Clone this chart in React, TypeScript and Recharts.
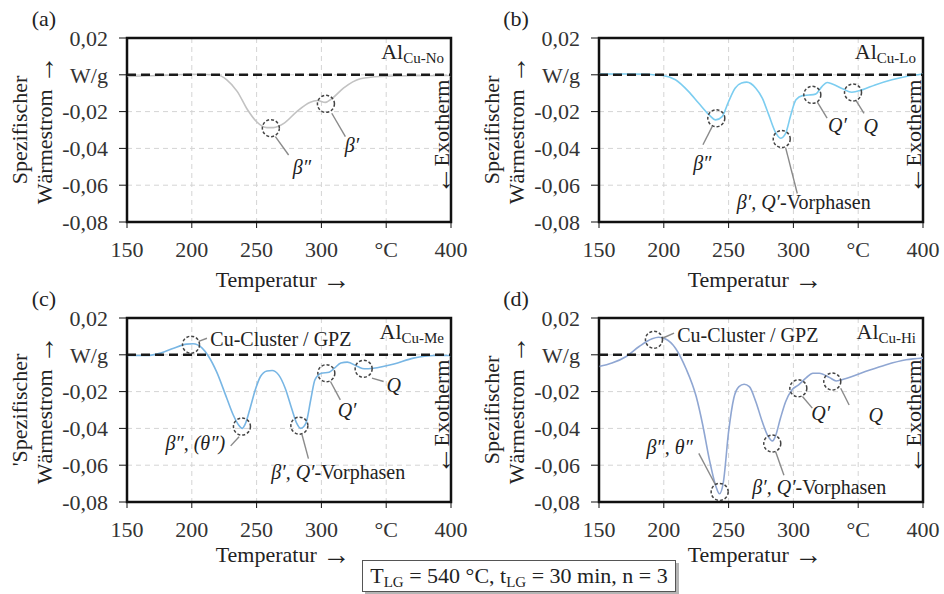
import {
  LineChart,
  Line,
  XAxis,
  YAxis,
  CartesianGrid,
  ReferenceLine,
  ReferenceDot,
  ReferenceArea,
} from "recharts";

// Temperatur in °C, spezifischer Wärmestrom in W/g
const tempA = [150, 175, 199, 219, 227, 235, 243, 250, 258, 263, 271, 281, 291, 297, 303, 308, 317, 330, 345, 369, 400];
const heatA = [-0.0009, -0.0004, 0.0003, 0, -0.0027, -0.009, -0.019, -0.0255, -0.0287, -0.0287, -0.0264, -0.02, -0.015, -0.014, -0.015, -0.013, -0.0073, -0.0022, -0.0009, -0.0005, -0.0004];

const tempB = [150, 176, 199, 209, 219, 227, 235, 240, 245, 250, 255, 260, 264, 271, 276, 281, 286, 290, 294, 298, 302, 307, 312, 317, 322, 326, 330, 338, 345, 353, 363, 376, 387, 400];
const heatB = [0.0004, 0.0004, -0.0004, -0.0027, -0.009, -0.0155, -0.0218, -0.0245, -0.0227, -0.0145, -0.0073, -0.0045, -0.004, -0.0073, -0.0127, -0.0218, -0.031, -0.0345, -0.0318, -0.0218, -0.0136, -0.0113, -0.011, -0.0105, -0.0064, -0.0042, -0.005, -0.0076, -0.0095, -0.0082, -0.0055, -0.0027, -0.0009, 0.0004];

const tempC = [150, 165, 176, 186, 196, 201, 208, 213, 219, 227, 232, 236, 239, 241, 245, 249, 253, 258, 262, 267, 272, 277, 281, 284, 288, 292, 295, 300, 306, 310, 315, 320, 328, 333, 340, 356, 371, 387, 400];
const heatC = [-0.0004, -0.0004, 0.0009, 0.0036, 0.0058, 0.006, 0.0036, -0.0009, -0.009, -0.0236, -0.0327, -0.038, -0.04, -0.038, -0.029, -0.019, -0.0118, -0.0088, -0.0085, -0.0109, -0.018, -0.029, -0.0373, -0.04, -0.0373, -0.0236, -0.0136, -0.01, -0.0095, -0.0073, -0.0045, -0.004, -0.0064, -0.0076, -0.0073, -0.005, -0.0018, -0.0004, -0.0004];

const tempD = [150, 160, 171, 181, 191, 196, 201, 209, 217, 225, 230, 235, 240, 243, 246, 250, 254, 258, 262, 266, 271, 276, 280, 284, 286, 290, 294, 299, 304, 310, 315, 320, 328, 333, 340, 356, 371, 387, 400];
const heatD = [-0.0064, -0.0045, -0.0009, 0.0045, 0.0087, 0.0095, 0.0087, 0.0036, -0.0073, -0.0227, -0.038, -0.0564, -0.071, -0.0755, -0.069, -0.0418, -0.0236, -0.0173, -0.016, -0.0173, -0.0255, -0.0364, -0.0436, -0.0468, -0.0445, -0.0345, -0.0255, -0.019, -0.0164, -0.0124, -0.01, -0.01, -0.0124, -0.0142, -0.013, -0.009, -0.0055, -0.0027, -0.0018];

const xTicks = [150, 200, 250, 300, 350, 400];
const yTicks = [0.02, 0, -0.02, -0.04, -0.06, -0.08];

// Anmerkungen: Kreise [T, q], Hinweislinien [T1, q1, T2, q2], Beschriftungen
type Part = [string, boolean];
type Note = { t: number; v: number; parts: Part[]; anchor?: string };

const circlesA = [[261, -0.029], [303.5, -0.0158]];
const leadersA = [[264.5, -0.0336, 274.7, -0.0436], [308, -0.0209, 318.5, -0.0336]];
const labelsA: Note[] = [
  { t: 285, v: -0.05, parts: [["β″", true]] },
  { t: 323.6, v: -0.038, parts: [["β′", true]] },
];

const circlesB = [[240.5, -0.0236], [291, -0.0349], [314.6, -0.0109], [346, -0.0096]];
const leadersB = [
  [237.4, -0.028, 230.2, -0.038],
  [294, -0.0396, 303, -0.0645],
  [318.5, -0.0149, 326, -0.0236],
  [348, -0.0136, 354.5, -0.0209],
];
const labelsB: Note[] = [
  { t: 229.7, v: -0.048, parts: [["β″", true]] },
  { t: 308, v: -0.069, parts: [["β′, Q′", true], ["-Vorphasen", false]] },
  { t: 334, v: -0.0273, parts: [["Q′", true]] },
  { t: 359.6, v: -0.0276, parts: [["Q", true]] },
];

const circlesC = [[199.4, 0.0055], [238.7, -0.039], [283, -0.0385], [303.8, -0.01], [332.6, -0.0076]];
const leadersC = [
  [205.3, 0.0073, 211.7, 0.009],
  [236.5, -0.0445, 230, -0.0495],
  [285, -0.0433, 290, -0.0564],
  [307, -0.0145, 314.6, -0.0245],
  [339, -0.0127, 348, -0.0145],
];
const labelsC: Note[] = [
  { t: 214.3, v: 0.0087, parts: [["Cu-Cluster / GPZ", false]], anchor: "start" },
  { t: 202.7, v: -0.0482, parts: [["β″, (θ″)", true]] },
  { t: 313, v: -0.0636, parts: [["β′, Q′", true], ["-Vorphasen", false]] },
  { t: 319.8, v: -0.03, parts: [["Q′", true]] },
  { t: 355.8, v: -0.0164, parts: [["Q", true]] },
];

const circlesD = [[192.4, 0.0082], [243.1, -0.0745], [283.7, -0.0482], [303.8, -0.0182], [330, -0.0145]];
const leadersD = [
  [198.9, 0.009, 207.9, 0.0118],
  [240, -0.0709, 227, -0.0536],
  [286.3, -0.0527, 292.7, -0.0655],
  [307, -0.0227, 314.6, -0.029],
  [336.5, -0.0182, 343, -0.0273],
];
const labelsD: Note[] = [
  { t: 210.4, v: 0.0109, parts: [["Cu-Cluster / GPZ", false]], anchor: "start" },
  { t: 204.5, v: -0.05, parts: [["β″, θ″", true]] },
  { t: 320, v: -0.0718, parts: [["β′, Q′", true], ["-Vorphasen", false]] },
  { t: 321, v: -0.0318, parts: [["Q′", true]] },
  { t: 363.5, v: -0.0327, parts: [["Q", true]] },
];

const FONT = "'Liberation Serif', 'Times New Roman', serif";
const W = 472;
const H = 297;
const PLOT_H = 184;

const fmtY = (v: number) => (Math.abs(v) < 1e-9 ? "W/g" : v.toFixed(2).replace(".", ","));
const fmtX = (v: number) => (v === 350 ? "°C" : String(v));

function Panel(props: any) {
  const { left, top, mt, letter, alloy, yTitle, temps, vals, color, circles, leaders, labels, titleY } = props;
  const data = temps.map((t: number, i: number) => ({ t, v: vals[i] }));
  const tickStyle = { fontSize: 22, fill: "#333", fontFamily: FONT };

  return (
    <div style={{ position: "absolute", left, top, width: W, height: H }}>
      <LineChart
        width={W}
        height={H}
        data={data}
        margin={{ top: mt, right: 21, bottom: H - mt - PLOT_H - 40, left: 0 }}
      >
        <CartesianGrid stroke="#d4d4d4" strokeDasharray="5 4" />
        <XAxis
          dataKey="t"
          type="number"
          domain={[150, 400]}
          ticks={xTicks}
          interval={0}
          allowDataOverflow
          tickFormatter={fmtX}
          tick={tickStyle}
          tickSize={6}
          tickMargin={13}
          height={40}
          stroke="#111"
        />
        <YAxis
          type="number"
          domain={[-0.08, 0.02]}
          ticks={yTicks}
          interval={0}
          allowDataOverflow
          tickFormatter={fmtY}
          tick={tickStyle}
          tickSize={8}
          tickMargin={11}
          width={127}
          stroke="#111"
        />
        <Line
          type="monotone"
          dataKey="v"
          stroke={color}
          strokeWidth={1.6}
          dot={false}
          isAnimationActive={false}
        />
        <ReferenceLine y={0} stroke="#1a1a1a" strokeWidth={2.5} strokeDasharray="9 5" />
        <ReferenceArea
          x1={150}
          x2={400}
          y1={-0.08}
          y2={0.02}
          fill="none"
          fillOpacity={0}
          stroke="#111"
          strokeWidth={2.5}
        />
        {leaders.map((l: number[], i: number) => (
          <ReferenceLine
            key={"l" + i}
            segment={[
              { x: l[0], y: l[1] },
              { x: l[2], y: l[3] },
            ]}
            stroke="#8a8a8a"
            strokeWidth={1.4}
          />
        ))}
        {circles.map((c: number[], i: number) => (
          <ReferenceDot
            key={"c" + i}
            x={c[0]}
            y={c[1]}
            r={8.5}
            fill="none"
            fillOpacity={0}
            stroke="#444"
            strokeWidth={1.5}
            strokeDasharray="3 2"
            ifOverflow="visible"
          />
        ))}
        {labels.map((n: Note, i: number) => (
          <ReferenceDot
            key={"n" + i}
            x={n.t}
            y={n.v}
            r={0}
            ifOverflow="visible"
            shape={(p: any) => (
              <text
                x={p.cx}
                y={p.cy}
                textAnchor={n.anchor || "middle"}
                dominantBaseline="central"
                fontFamily={FONT}
                fontSize={20}
                fill="#222"
              >
                {n.parts.map((pt, j) => (
                  <tspan key={j} fontStyle={pt[1] ? "italic" : "normal"}>
                    {pt[0]}
                  </tspan>
                ))}
              </text>
            )}
          />
        ))}
      </LineChart>
      <svg
        width={W}
        height={H}
        style={{ position: "absolute", left: 0, top: 0, pointerEvents: "none", overflow: "visible" }}
        fontFamily={FONT}
        fill="#222"
      >
        <text x={44} y={mt - 20} textAnchor="middle" dominantBaseline="central" fontSize={22}>
          {letter}
        </text>
        <text x={444} y={mt + 21} textAnchor="end" fontSize={22}>
          Al
          <tspan fontSize={15} dy={4}>
            {alloy}
          </tspan>
        </text>
        <text
          transform={`translate(441, ${mt + 99}) rotate(-90)`}
          textAnchor="middle"
          dominantBaseline="central"
          fontSize={22}
        >
          <tspan fontSize={28}>←</tspan>Exotherm
        </text>
        <text
          transform={`translate(19, ${mt + 92}) rotate(-90)`}
          textAnchor="middle"
          dominantBaseline="central"
          fontSize={22}
        >
          {yTitle}
        </text>
        <text
          transform={`translate(44, ${mt + 92}) rotate(-90)`}
          textAnchor="middle"
          dominantBaseline="central"
          fontSize={22}
        >
          Wärmestrom <tspan fontSize={28}>→</tspan>
        </text>
        <text x={283} y={titleY} textAnchor="middle" dominantBaseline="central" fontSize={22}>
          Temperatur <tspan fontSize={28}>→</tspan>
        </text>
      </svg>
    </div>
  );
}

export default function App() {
  return (
    <div
      style={{
        position: "absolute",
        left: 0,
        top: 0,
        width: 944,
        height: 594,
        background: "#fff",
        fontFamily: FONT,
        overflow: "hidden",
      }}
    >
      <Panel left={0} top={0} mt={38} letter="(a)" alloy="Cu-No" yTitle="Spezifischer" temps={tempA} vals={heatA}
        color="#c2c2c2" circles={circlesA} leaders={leadersA} labels={labelsA} titleY={279} />
      <Panel left={472} top={0} mt={38} letter="(b)" alloy="Cu-Lo" yTitle="Spezifischer" temps={tempB} vals={heatB}
        color="#7ccdf0" circles={circlesB} leaders={leadersB} labels={labelsB} titleY={279} />
      <Panel left={0} top={297} mt={21} letter="(c)" alloy="Cu-Me" yTitle="'Spezifischer" temps={tempC} vals={heatC}
        color="#78b6e4" circles={circlesC} leaders={leadersC} labels={labelsC} titleY={257} />
      <Panel left={472} top={297} mt={21} letter="(d)" alloy="Cu-Hi" yTitle="Spezifischer" temps={tempD} vals={heatD}
        color="#8fa6d2" circles={circlesD} leaders={leadersD} labels={labelsD} titleY={257} />
      <div
        style={{
          position: "absolute",
          left: 362,
          top: 560,
          width: 312,
          height: 30,
          border: "1.5px solid #555",
          boxShadow: "3px 3px 0 #b5b5b5",
          background: "#fff",
          fontSize: 22,
          color: "#222",
          textAlign: "center",
          lineHeight: "30px",
          whiteSpace: "nowrap",
        }}
      >
        T<sub style={{ fontSize: 15, verticalAlign: "-4px" }}>LG</sub> = 540 °C, t
        <sub style={{ fontSize: 15, verticalAlign: "-4px" }}>LG</sub> = 30 min, n = 3
      </div>
    </div>
  );
}
